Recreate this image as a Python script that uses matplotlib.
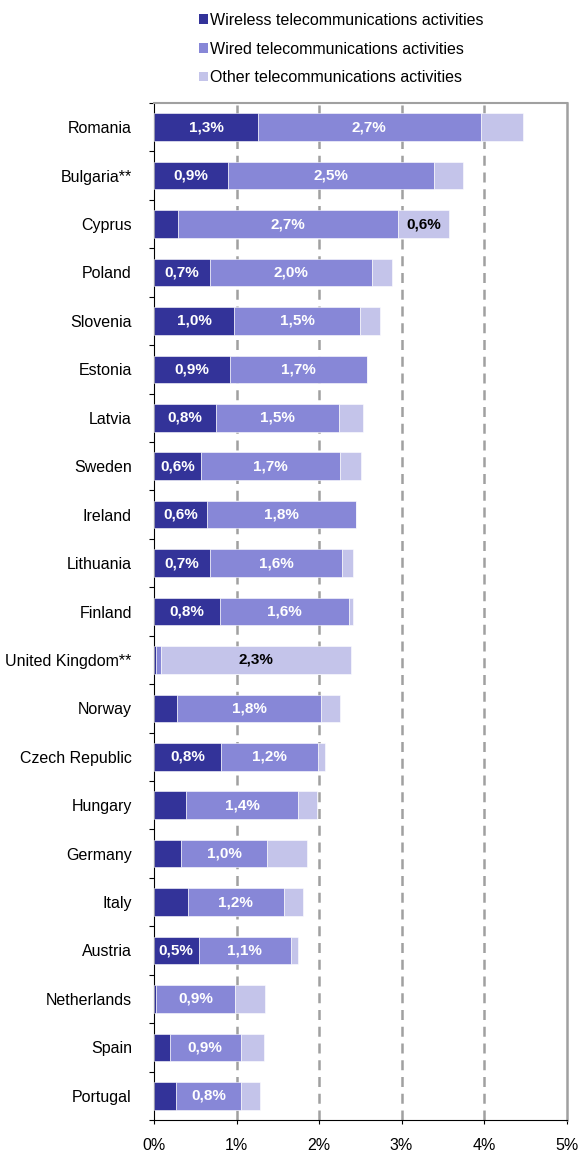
import matplotlib
matplotlib.use("Agg")
import matplotlib.pyplot as plt
from matplotlib.patches import Patch
import numpy as np

plt.rcParams['font.family'] = ['Liberation Sans', 'DejaVu Sans']

countries = ["Romania", "Bulgaria**", "Cyprus", "Poland", "Slovenia", "Estonia",
             "Latvia", "Sweden", "Ireland", "Lithuania", "Finland", "United Kingdom**",
             "Norway", "Czech Republic", "Hungary", "Germany", "Italy", "Austria",
             "Netherlands", "Spain", "Portugal"]
wireless = [1.26, 0.90, 0.29, 0.68, 0.97, 0.92, 0.75, 0.57, 0.64, 0.68, 0.80, 0.02,
            0.28, 0.81, 0.39, 0.33, 0.41, 0.54, 0.03, 0.19, 0.27]
wired = [2.70, 2.49, 2.67, 1.96, 1.53, 1.66, 1.49, 1.68, 1.81, 1.60, 1.56, 0.06,
         1.75, 1.18, 1.36, 1.04, 1.16, 1.12, 0.95, 0.86, 0.79]
other = [0.51, 0.35, 0.62, 0.25, 0.24, 0.00, 0.29, 0.26, 0.00, 0.13, 0.05, 2.31,
         0.22, 0.08, 0.22, 0.48, 0.23, 0.08, 0.36, 0.28, 0.22]
series_names = ["Wireless telecommunications activities",
                "Wired telecommunications activities",
                "Other telecommunications activities"]
colors = ["#333399", "#8787d7", "#c4c4ea"]
label_min = [0.5, 0.5, 0.6]
label_colors = ["white", "white", "black"]

fig = plt.figure(figsize=(5.79, 11.57), dpi=100)
ax = fig.add_axes([154/579, 1 - 1120/1157, (566.5 - 154)/579, (1120 - 103)/1157])

y = np.arange(len(countries))
left = np.zeros(len(countries))
for vals, col, thr, tcol in zip([wireless, wired, other], colors, label_min, label_colors):
    vals = np.array(vals)
    ax.barh(y, vals, left=left, height=0.57, color=col, edgecolor="white",
            linewidth=0.4, zorder=3)
    for yi, (l, v) in enumerate(zip(left, vals)):
        if v >= thr:
            txt = ("%.1f%%" % v).replace(".", ",")
            ax.text(l + v / 2, yi, txt, ha="center", va="center", color=tcol,
                    fontsize=11, fontweight="bold", zorder=4)
    left = left + vals

ax.set_xlim(0, 5)
ax.set_ylim(len(countries) - 0.5, -0.5)
ax.set_xticks(np.arange(0, 6))
ax.set_xticklabels(["%d%%" % i for i in range(6)], fontsize=11.5)
ax.set_yticks(y)
ax.set_yticklabels(countries, fontsize=11.5)
ax.set_yticks(np.arange(-0.5, len(countries)), minor=True)
ax.tick_params(axis="y", which="major", length=0, pad=16)
ax.tick_params(axis="y", which="minor", length=3.5, width=0.8, direction="out")
ax.tick_params(axis="x", length=3, width=0.8, direction="out", pad=10)

for xv in range(1, 5):
    ax.axvline(xv, color="#a0a0a0", linewidth=1.8, linestyle=(0, (4, 2.7)), zorder=1)

ax.spines["left"].set_color("black")
ax.spines["bottom"].set_color("black")
ax.spines["top"].set_color("#a0a0a0")
ax.spines["right"].set_color("#a0a0a0")
ax.spines["top"].set_linewidth(1.5)
ax.spines["right"].set_linewidth(1.8)

handles = [Patch(facecolor=c, edgecolor="none") for c in colors]
fig.legend(handles, series_names, loc="upper left", bbox_to_anchor=(199/579, 1 - 13/1157),
           frameon=False, fontsize=11.5, handlelength=0.56, handleheight=0.56,
           handletextpad=0.15, labelspacing=0.85, borderaxespad=0, borderpad=0)

fig.savefig("out.png", dpi=100)
